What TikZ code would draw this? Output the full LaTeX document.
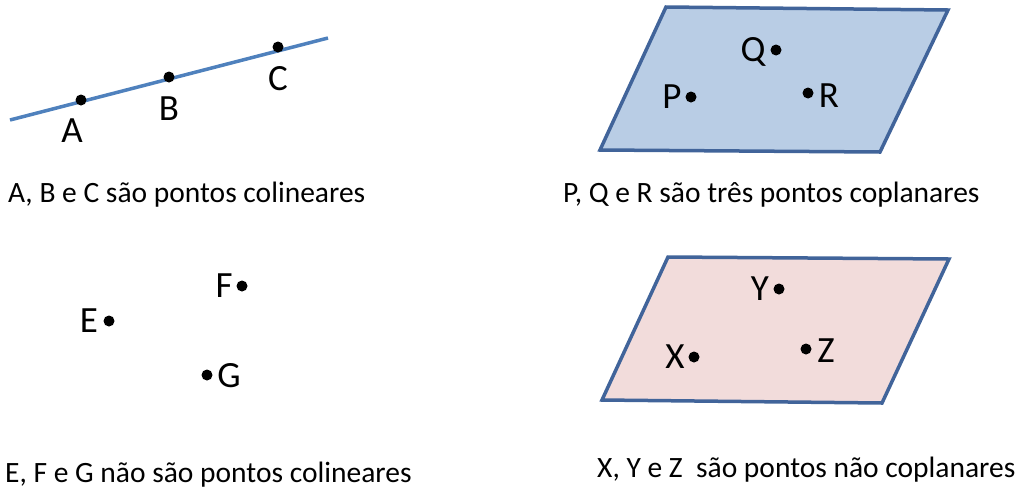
\documentclass[tikz,border=0pt]{standalone}
\usepackage{fontspec}
\setmainfont{Carlito}
\definecolor{lineblue}{HTML}{4F81BD}
\definecolor{edgeblue}{HTML}{41649A}
\definecolor{fillblue}{HTML}{B9CDE5}
\definecolor{fillpink}{HTML}{F2DCDB}
\tikzset{
  dot/.style={circle,fill=black,inner sep=0pt,minimum size=11pt},
  lbl/.style={anchor=base,inner sep=0pt,font=\fontsize{37}{40}\selectfont},
  captext/.style={anchor=base west,inner sep=0pt,font=\fontsize{29.5}{33}\selectfont},
  plane/.style={draw=edgeblue,line width=3.5pt,line join=miter}
}
\begin{document}
\begin{tikzpicture}[x=1pt,y=-1pt]
\useasboundingbox (0,0) rectangle (1019,488);
% line with A, B, C
\coordinate (l1) at (10,120);
\coordinate (l2) at (328,38);
\draw[lineblue,line width=3.5pt] (l1) -- (l2);
\node[dot] (A) at (81,100) {};
\node[dot] (B) at (169,77) {};
\node[dot] (C) at (278,47) {};
\node[lbl] (lA) at (72,142) {A};
\node[lbl] (lB) at (169,120) {B};
\node[lbl] (lC) at (278,90) {C};
\node[captext] (c1) at (8,202) {A, B e C são pontos colineares};
% plane P Q R
\filldraw[plane,fill=fillblue] (666,7) -- (948,10) -- (880,152) -- (600,150) -- cycle;
\node[dot] (P) at (691,97) {};
\node[dot] (Q) at (776,50) {};
\node[dot] (R) at (808,93) {};
\node[lbl] (lP) at (672,108) {P};
\node[lbl] (lQ) at (753,61) {Q};
\node[lbl] (lR) at (829,107) {R};
\node[captext] (c2) at (563,202) {P, Q e R são três pontos coplanares};
% E F G
\node[dot] (E) at (109,321) {};
\node[dot] (F) at (242,286) {};
\node[dot] (G) at (207,375) {};
\node[lbl] (lE) at (89,332) {E};
\node[lbl] (lF) at (224,297) {F};
\node[lbl] (lG) at (229,387) {G};
\node[captext] (c3) at (5,482) {E, F e G não são pontos colineares};
% plane X Y Z
\filldraw[plane,fill=fillpink] (668,257) -- (949,259) -- (882,403) -- (602,400) -- cycle;
\node[dot] (X) at (694,357) {};
\node[dot] (Y) at (779,289) {};
\node[dot] (Z) at (806,349) {};
\node[lbl] (lX) at (675,368) {X};
\node[lbl] (lY) at (760,300) {Y};
\node[lbl] (lZ) at (826,362) {Z};
\node[captext] (c4) at (597,477) {X, Y e Z\ \ são pontos não coplanares};
\end{tikzpicture}
\end{document}
